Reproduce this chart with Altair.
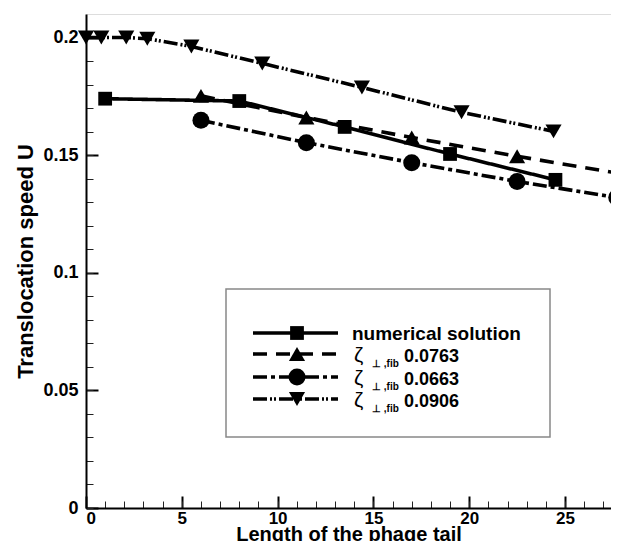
import altair as alt
import pandas as pd

# ---- data ----
x_num = [1, 8, 13.5, 19, 24.5]
y_num = [0.174, 0.173, 0.162, 0.1505, 0.1395]

x_763 = [6, 11.5, 17, 22.5, 28]
y_763 = [0.1752, 0.166, 0.1575, 0.1495, 0.142]

x_663 = [6, 11.5, 17, 22.5, 27.7]
y_663 = [0.1648, 0.1553, 0.1468, 0.1388, 0.132]

x_906 = [0, 0.8, 2.1, 3.2, 5.5, 9.2, 14.4, 19.6, 24.4]
y_906 = [0.2, 0.2, 0.2, 0.1995, 0.1962, 0.189, 0.1788, 0.1682, 0.1601]

x_major = [0, 5, 10, 15, 20, 25]
x_minor = list(range(0, 28))
y_major = [0, 0.05, 0.1, 0.15, 0.2]
y_minor = [i / 100 for i in range(0, 21)]

legend_labels = ["numerical solution", "0.0763", "0.0663", "0.0906"]

# ---- layout / style ----
FONT = "Liberation Sans"
W, H = 525, 494
XDOM = [0, 27.4]
YDOM = [0, 0.21]
LW = 3.6

series = [
    (x_num, y_num, [1, 0], "square", 190),
    (x_763, y_763, [14, 9], "triangle-up", 260),
    (x_663, y_663, [14, 4, 4, 4], "circle", 290),
    (x_906, y_906, [14, 3, 2, 2, 2, 3], "triangle-down", 260),
]

major_x = alt.Axis(values=x_major, tickSize=12, tickWidth=2, tickColor="black",
                   offset=-12, domain=False, grid=False, orient="bottom",
                   labelFont=FONT, labelFontWeight="bold", labelFontSize=17,
                   labelColor="black", labelPadding=2, format="~g",
                   title="Length of the phage tail", titleFont=FONT,
                   titleFontWeight="bold", titleFontSize=20, titleColor="black",
                   titleBaseline="alphabetic", titleY=44)
major_y = alt.Axis(values=y_major, tickSize=12, tickWidth=2, tickColor="black",
                   offset=-12, domain=False, grid=False, orient="left",
                   labelFont=FONT, labelFontWeight="bold", labelFontSize=18,
                   labelColor="black", labelPadding=8, format="~g",
                   title="Translocation speed U", titleFont=FONT,
                   titleFontWeight="bold", titleFontSize=22, titleColor="black",
                   titleBaseline="alphabetic", titleX=-66)
minor_x = alt.Axis(values=x_minor, tickSize=7, tickWidth=1, tickColor="#222",
                   offset=-7, domain=False, grid=False, labels=False,
                   orient="bottom", title="")
minor_y = alt.Axis(values=y_minor, tickSize=7, tickWidth=1, tickColor="#222",
                   offset=-7, domain=False, grid=False, labels=False,
                   orient="left", title="")
dom_x = alt.Axis(ticks=False, labels=False, domain=True, domainWidth=2,
                 domainColor="black", grid=False, orient="bottom", title="")
dom_y = alt.Axis(ticks=False, labels=False, domain=True, domainWidth=2,
                 domainColor="black", grid=False, orient="left", title="")

axes = [(major_x, major_y), (minor_x, minor_y), (dom_x, dom_y), (None, None)]

layers = []
for (xs, ys, dash, shape, size), (ax, ay) in zip(series, axes):
    df = pd.DataFrame({"x": xs, "y": ys})
    base = alt.Chart(df).encode(
        x=alt.X("x:Q", scale=alt.Scale(domain=XDOM, nice=False, zero=False), axis=ax),
        y=alt.Y("y:Q", scale=alt.Scale(domain=YDOM, nice=False, zero=False), axis=ay),
    )
    line = base.mark_line(color="black", strokeWidth=LW, strokeDash=dash)
    pts = alt.Chart(df).mark_point(shape=shape, size=size, filled=True,
                                   color="black", opacity=1).encode(
        x=alt.X("x:Q", scale=alt.Scale(domain=XDOM, nice=False, zero=False), axis=None),
        y=alt.Y("y:Q", scale=alt.Scale(domain=YDOM, nice=False, zero=False), axis=None),
    )
    layers += [line, pts]

# ---- legend box (pixel layout within plot area) ----
one = pd.DataFrame({"k": [0]})
box = alt.Chart(one).mark_rect(fill="white", stroke="#888", strokeWidth=1.5).encode(
    x=alt.value(140), x2=alt.value(464), y=alt.value(275), y2=alt.value(423))
layers.append(box)

rows_y = [319, 340, 363, 385]
for (xs, ys, dash, shape, size), ry, lab in zip(series, rows_y, legend_labels):
    layers.append(alt.Chart(one).mark_rule(color="black", strokeWidth=LW,
                                           strokeDash=dash).encode(
        x=alt.value(167), x2=alt.value(252), y=alt.value(ry)))
    layers.append(alt.Chart(one).mark_point(shape=shape, size=size, filled=True,
                                            color="black", opacity=1).encode(
        x=alt.value(211), y=alt.value(ry)))
    if lab == "numerical solution":
        layers.append(alt.Chart(one).mark_text(text=lab, font=FONT, fontWeight="bold",
                                               fontSize=19, align="left",
                                               baseline="middle", color="black").encode(
            x=alt.value(266), y=alt.value(ry + 1)))
    else:
        layers.append(alt.Chart(one).mark_text(text="ζ", font=FONT, fontSize=21,
                                               align="left", baseline="middle",
                                               color="black").encode(
            x=alt.value(268), y=alt.value(ry + 2)))
        layers.append(alt.Chart(one).mark_text(text="⊥ ,fib", font=FONT,
                                               fontWeight="bold", fontSize=10,
                                               align="left", baseline="middle",
                                               color="black").encode(
            x=alt.value(286), y=alt.value(ry + 10)))
        layers.append(alt.Chart(one).mark_text(text=lab, font=FONT, fontWeight="bold",
                                               fontSize=18, align="left",
                                               baseline="middle", color="black").encode(
            x=alt.value(318), y=alt.value(ry + 3)))

chart = alt.layer(*layers).resolve_axis(x="independent", y="independent").properties(
    width=W, height=H,
    autosize=alt.AutoSizeParams(type="none"),
    padding={"left": 78, "top": 6, "right": 0, "bottom": 33},
).configure_view(stroke=None).configure(background="white")

chart.save("out.html", embed_options={"renderer": "svg", "actions": False})
